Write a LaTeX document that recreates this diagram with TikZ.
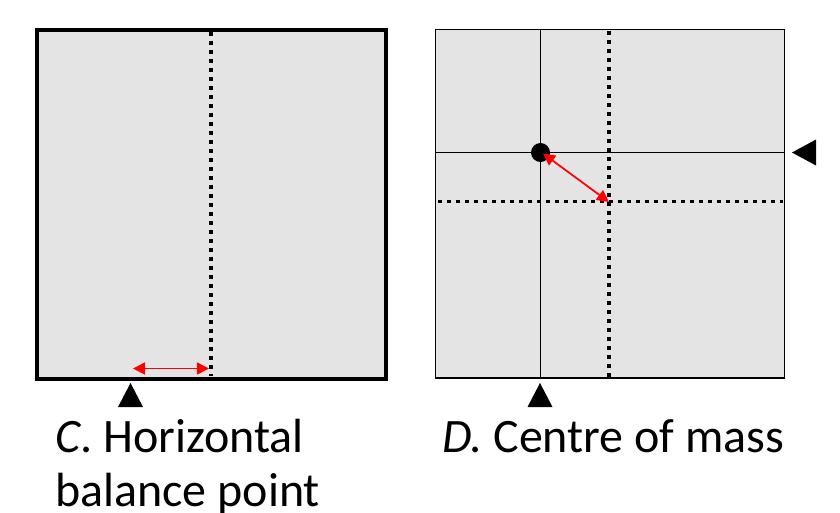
\documentclass[tikz,border=0pt]{standalone}
\usepackage{fontspec}
\setmainfont{Carlito}
\usetikzlibrary{arrows.meta}
\definecolor{panelgray}{HTML}{E4E4E4}
\definecolor{arrowred}{HTML}{FF0000}
\tikzset{
  panel/.style={fill=panelgray, draw=black},
  dotline/.style={line width=3.8pt*0.75, dash pattern=on 3.8pt*0.75 off 5.2pt*0.75, black},
  solidline/.style={line width=1.3pt, black},
  redarrow/.style={draw=arrowred, line width=1.3pt, {Triangle[length=9pt,width=9pt]}-{Triangle[length=9pt,width=9pt]}},
  pivot/.style={fill=black, draw=none},
  caption/.style={font=\fontsize{36}{40.5}\selectfont, anchor=base west, inner sep=0pt},
}
\begin{document}
\begin{tikzpicture}[x=0.75pt, y=-0.75pt]
\useasboundingbox (0,0) rectangle (840,512);
% ---- Panel C ----
\draw[panel, line width=3pt] (36.5,30) rectangle (386,378.5);
\coordinate (cTop) at (211,32);
\coordinate (cBot) at (211,376);
\draw[dotline] (cTop) -- (cBot);
\coordinate (cA) at (133,368.5);
\coordinate (cB) at (209,368.5);
\draw[redarrow] (cA) -- (cB);
\fill[pivot] (130.5,383) -- (143,407) -- (118,407) -- cycle;
\node[caption] (capC1) at (55,452.7) {\textit{C}. Horizontal};
\node[caption] (capC2) at (55,506.7) {balance point};
% ---- Panel D ----
\draw[panel, line width=1.2pt] (435.5,29.5) rectangle (784.5,378);
\coordinate (dvT) at (540.5,29.5);
\coordinate (dvB) at (540.5,378);
\coordinate (dhL) at (435.5,152.5);
\coordinate (dhR) at (784.5,152.5);
\draw[solidline] (dvT) -- (dvB);
\draw[solidline] (dhL) -- (dhR);
\coordinate (ddT) at (609,31);
\coordinate (ddB) at (609,377);
\coordinate (ddL) at (438,201.5);
\coordinate (ddR) at (783,201.5);
\draw[dotline] (ddT) -- (ddB);
\draw[dotline] (ddL) -- (ddR);
\node[circle, fill=black, minimum size=19*0.75pt, inner sep=0pt] (dot) at (540.5,152.5) {};
\coordinate (cm) at (543,153.5);
\coordinate (cross) at (609,202);
\draw[redarrow] (cm) -- (cross);
\fill[pivot] (540,383) -- (552.5,407) -- (527.5,407) -- cycle;
\fill[pivot] (792,152.5) -- (816,139.5) -- (816,165.5) -- cycle;
\node[caption] (capD) at (442,452.7) {\textit{D.} Centre of mass};
\end{tikzpicture}
\end{document}
